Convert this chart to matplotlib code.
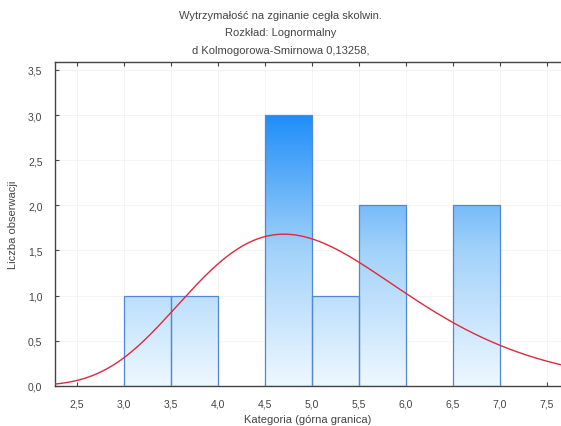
import numpy as np
import matplotlib
matplotlib.use("Agg")
import matplotlib.pyplot as plt
from matplotlib.colors import LinearSegmentedColormap
from matplotlib.patches import Rectangle
from matplotlib.ticker import FuncFormatter

plt.rcParams['font.family'] = ['Liberation Sans', 'DejaVu Sans']

# histogram: bin edges and counts
bin_left = [3.0, 3.5, 4.0, 4.5, 5.0, 5.5, 6.0, 6.5]
bin_width = 0.5
counts = [1, 1, 0, 3, 1, 2, 0, 2]

# fitted lognormal
ln_mu = 1.608
ln_sigma = 0.245
n_obs = 10

title = ("Wytrzymałość na zginanie cegła skolwin.\n"
         "Rozkład: Lognormalny\n"
         "d Kolmogorowa-Smirnowa 0,13258,")

fig = plt.figure(figsize=(5.61, 4.27), dpi=100)
ax = fig.add_axes([0.098, 0.094, 0.902, 0.758])

xmin, xmax = 2.265, 7.65
ymin, ymax = 0.0, 3.585
ax.set_xlim(xmin, xmax)
ax.set_ylim(ymin, ymax)

# gradient fill for bars (dark at top of the tallest bar)
cmap = LinearSegmentedColormap.from_list("bl", ["#eef8ff", "#a2d2fa", "#1f8ef8"])
grad = np.linspace(0, 1, 256).reshape(-1, 1)
top = max(counts)
for x0, c in zip(bin_left, counts):
    if c == 0:
        continue
    rect = Rectangle((x0, 0), bin_width, c, facecolor="none",
                     edgecolor="#5286d8", linewidth=0.9, zorder=3)
    ax.add_patch(rect)
    im = ax.imshow(grad, cmap=cmap, origin="lower", aspect="auto",
                   extent=(xmin, xmax, 0, top), zorder=2, interpolation="bilinear")
    im.set_clip_path(rect)

# fitted curve scaled to counts
xs = np.linspace(xmin, xmax, 400)
pdf = np.exp(-(np.log(xs) - ln_mu) ** 2 / (2 * ln_sigma ** 2)) / (xs * ln_sigma * np.sqrt(2 * np.pi))
ax.plot(xs, pdf * n_obs * bin_width, color="#e0283c", lw=1.0, zorder=4)

ax.set_xticks(np.arange(2.5, 7.51, 0.5))
ax.set_yticks(np.arange(0, 3.51, 0.5))
fmt = FuncFormatter(lambda v, p: ("%.1f" % v).replace(".", ","))
ax.xaxis.set_major_formatter(fmt)
ax.yaxis.set_major_formatter(fmt)
ax.tick_params(direction="in", length=3, width=0.8, colors="#444444",
               labelsize=7.5, top=True)
ax.tick_params(axis="x", pad=9)
ax.tick_params(axis="y", pad=9)
ax.grid(True, color="#f3f3f3", lw=0.6, zorder=0)
ax.set_axisbelow(True)

for s in ["left", "top", "bottom"]:
    ax.spines[s].set_color("#444444")
    ax.spines[s].set_linewidth(1.0)
ax.spines["right"].set_visible(False)

ax.set_xlabel("Kategoria (górna granica)", fontsize=8, color="#444444", labelpad=4)
ax.set_ylabel("Liczba obserwacji", fontsize=8, color="#444444", labelpad=7)

fig.text(0.5, 0.974, title, ha="center", va="top", fontsize=8,
         color="#444444", linespacing=1.9)

fig.savefig("out.png", dpi=100)
